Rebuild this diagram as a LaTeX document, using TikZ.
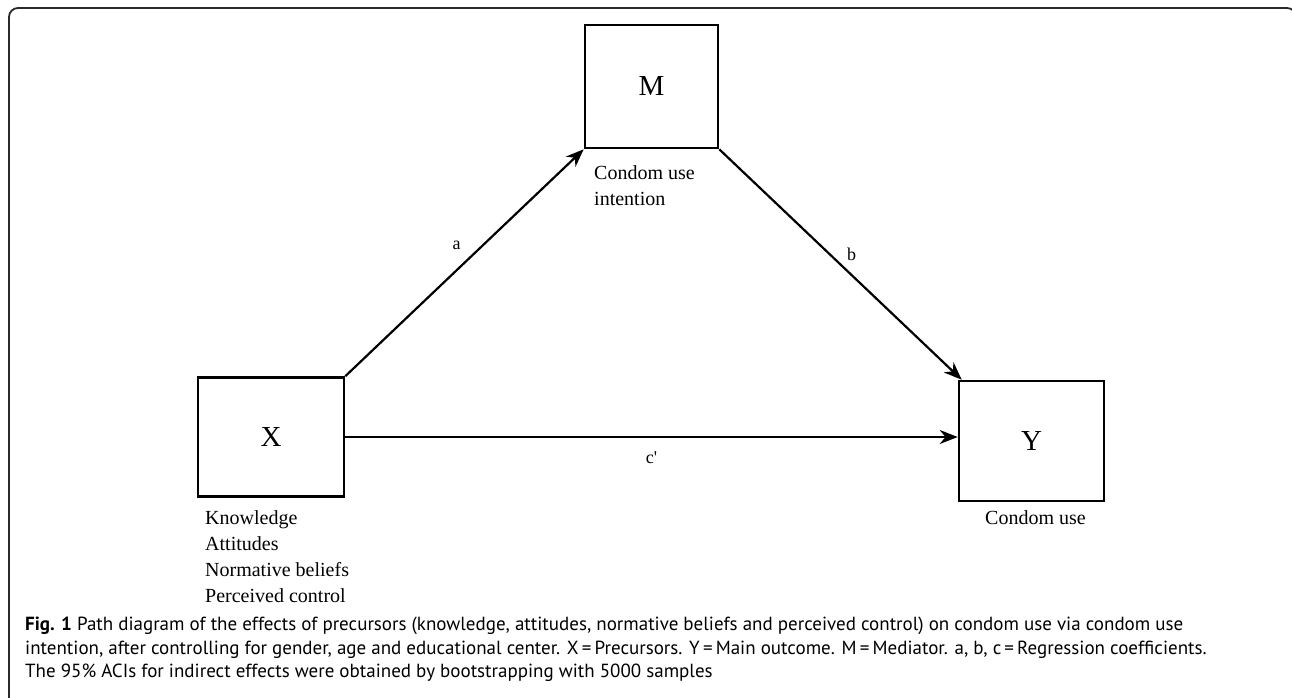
\documentclass[tikz,border=0pt]{standalone}
\usepackage{fontspec}
\setmainfont{Liberation Serif}
\newfontfamily\capfont{PT Sans}
\usepackage{tikz}
\usetikzlibrary{arrows.meta}
\definecolor{frame_grey}{HTML}{2A2A2A}

\tikzset{
    var/.style={draw, line width=2.6pt, font=\fontsize{29}{29}\selectfont},
    path_arrow/.style={line width=2.2pt, -{Stealth[length=18pt, width=14pt]}},
    note/.style={align=left, inner sep=0pt, font=\fontsize{20}{26.3}\selectfont},
    coef/.style={inner sep=0pt, font=\fontsize{18}{18}\selectfont}
}

\begin{document}
\begin{tikzpicture}[x=1pt, y=-1pt]
            \useasboundingbox (0, 0) rectangle (1292, 697);
            \draw [frame_grey, line width=1.8pt, rounded corners=9pt] (9, 700) -- (9, 8) -- (1296, 8) -- (1296, 700);

            % variables
            \node[var, minimum width=133pt, minimum height=123pt] (M) at (651.5, 86.5) {M};
            \node[var, minimum width=146pt, minimum height=119pt] (X) at (271, 437) {X};
            \node[var, minimum width=145pt, minimum height=120pt] (Y) at (1031.5, 441) {Y};

            \node[note, anchor=north west] (Mnote) at (594, 165) {Condom use\\ intention};
            \node[note, anchor=north west] (Xnote) at (205, 510) {Knowledge\\Attitudes\\Normative beliefs\\Perceived control};
            \node[note, anchor=north west] (Ynote) at (985, 510) {Condom use};

            % paths
            \draw[path_arrow] (X.north east) -- node[coef, xshift=-8pt, yshift=17pt] {a} (M.south west);
            \draw[path_arrow] (M.south east) -- node[coef, xshift=11pt, yshift=10pt] {b} ([xshift=4pt]Y.north west);
            \draw[path_arrow] (X.east) -- node[coef, yshift=-21pt] {c\textquotesingle} (X.east -| Y.west);

            \node[anchor=north west, align=left, inner sep=0pt, font=\capfont\fontsize{19}{23.5}\selectfont] (caption) at (25, 617)
                {\textbf{Fig. 1} Path diagram of the effects of precursors (knowledge, attitudes, normative beliefs and perceived control) on condom use via condom use\\
                intention, after controlling for gender, age and educational center. X\,=\,Precursors. Y\,=\,Main outcome. M\,=\,Mediator. a, b, c\,=\,Regression coefficients.\\
                The 95\% ACIs for indirect effects were obtained by bootstrapping with 5000 samples};
\end{tikzpicture}
\end{document}
